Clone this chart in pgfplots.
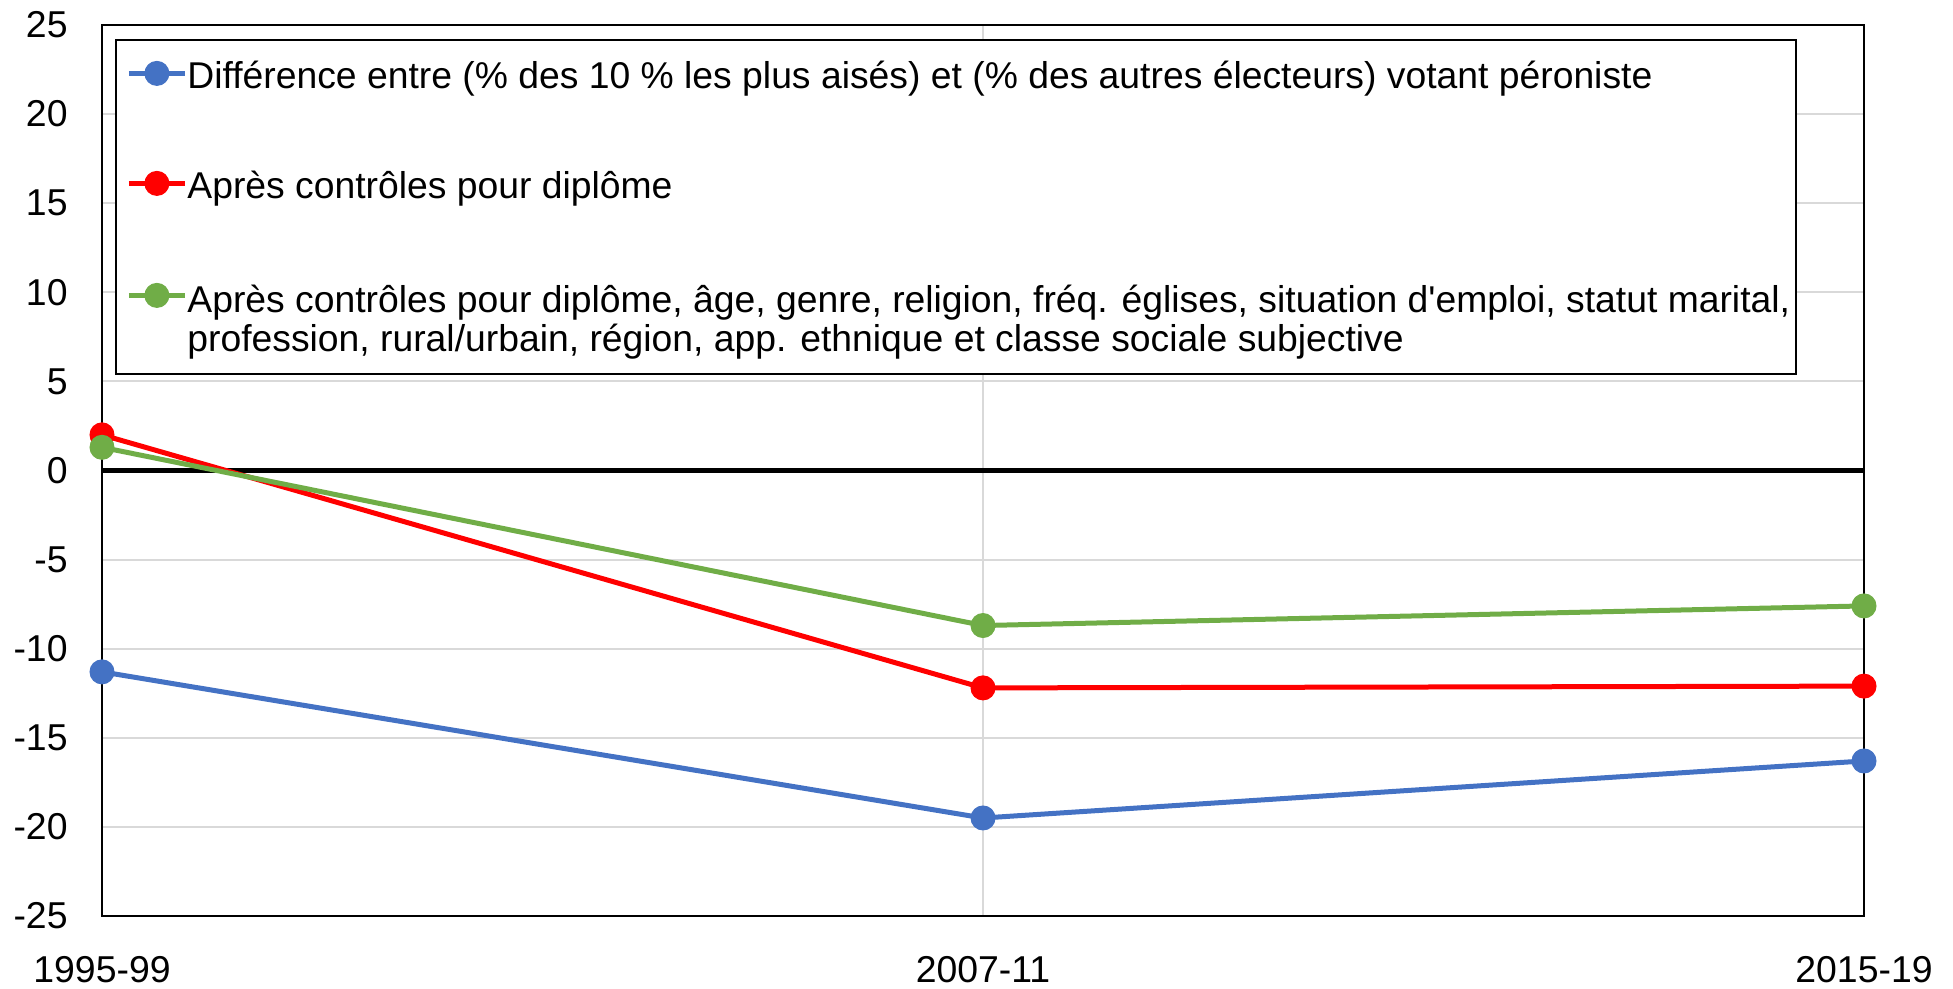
\documentclass[border=0pt]{standalone}
\usepackage{fontspec}
\setmainfont{Liberation Sans}[Ligatures=TeXOff]
\usepackage{pgfplots}
\pgfplotsset{compat=1.18}
\definecolor{cblue}{HTML}{4472C4}
\definecolor{cred}{HTML}{FF0000}
\definecolor{cgreen}{HTML}{70AD47}
\definecolor{cgrid}{HTML}{D9D9D9}
\begin{document}
\begin{tikzpicture}
\begin{axis}[
  scale only axis,
  width=881pt, height=445.5pt,
  xmin=0, xmax=2, ymin=-25, ymax=25,
  xtick={0,1,2},
  xticklabels={1995-99,2007-11,2015-19},
  ytick={-25,-20,-15,-10,-5,0,5,10,15,20,25},
  yticklabels={-25,-20,-15,-10,-5,0,5,10,15,20,25},
  major tick length=0pt,
  xmajorgrids, ymajorgrids,
  grid style={cgrid, line width=1pt},
  axis line style={black, line width=1pt},
  tick label style={font=\fontsize{18.7}{20.5}\selectfont, inner sep=0pt},
  xticklabel style={anchor=base, yshift=-33.5pt},
  yticklabel style={anchor=east, xshift=-17pt},
  clip=false,
  legend cell align=left,
  legend image code/.code={\draw[mark repeat=2,mark phase=2,#1] plot coordinates {(0pt,0pt)(14pt,0pt)(28pt,0pt)};},
  legend style={
    at={(0,1)}, anchor=north west, xshift=7pt, yshift=-7.5pt,
    draw=none, fill=none,
    inner xsep=5pt, inner ysep=7.5pt,
    row sep=37pt,
    font=\fontsize{18.65}{19.5}\selectfont,
    nodes={inner sep=0pt},
    /tikz/every odd column/.append style={column sep=0pt},
  },
]
\addplot[black, line width=2.5pt, forget plot] coordinates {(0,0) (2,0)};
\addplot[cblue, line width=2.5pt, mark=*, mark size=6pt, mark options={solid, fill=cblue, line width=0.5pt}]
  coordinates {(0,-11.3) (1,-19.5) (2,-16.3)};
\addlegendentry{\rule[-4pt]{0pt}{20.5pt}Différence entre (\% des 10 \% les plus aisés) et (\% des autres électeurs) votant péroniste}
\addplot[cred, line width=2.5pt, mark=*, mark size=6pt, mark options={solid, fill=cred, line width=0.5pt}]
  coordinates {(0,2.0) (1,-12.2) (2,-12.1)};
\addlegendentry{\rule[-4pt]{0pt}{20.5pt}Après contrôles pour diplôme}
\addplot[cgreen, line width=2.5pt, mark=*, mark size=6pt, mark options={solid, fill=cgreen, line width=0.5pt}]
  coordinates {(0,1.3) (1,-8.7) (2,-7.6)};
\addlegendentry{\vtop{\baselineskip=19.5pt\hbox{\rule{0pt}{18.5pt}Après contrôles pour diplôme, âge, genre, religion, fréq. églises, situation d'emploi, statut marital,}\hbox{\rule[-4pt]{0pt}{4pt}profession, rural/urbain, région, app. ethnique et classe sociale subjective}}}
\draw[black, line width=0.75pt, fill=white] ([shift={(7pt,-7.5pt)}]rel axis cs:0,1) rectangle ([shift={(847pt,-174.5pt)}]rel axis cs:0,1);
\end{axis}
\path (current axis.south west) ++(-51pt,-36.5pt) coordinate (bl);
\path (current axis.north east) ++(44.5pt,12.5pt) coordinate (tr);
\path (bl) rectangle (tr);
\end{tikzpicture}
\end{document}
